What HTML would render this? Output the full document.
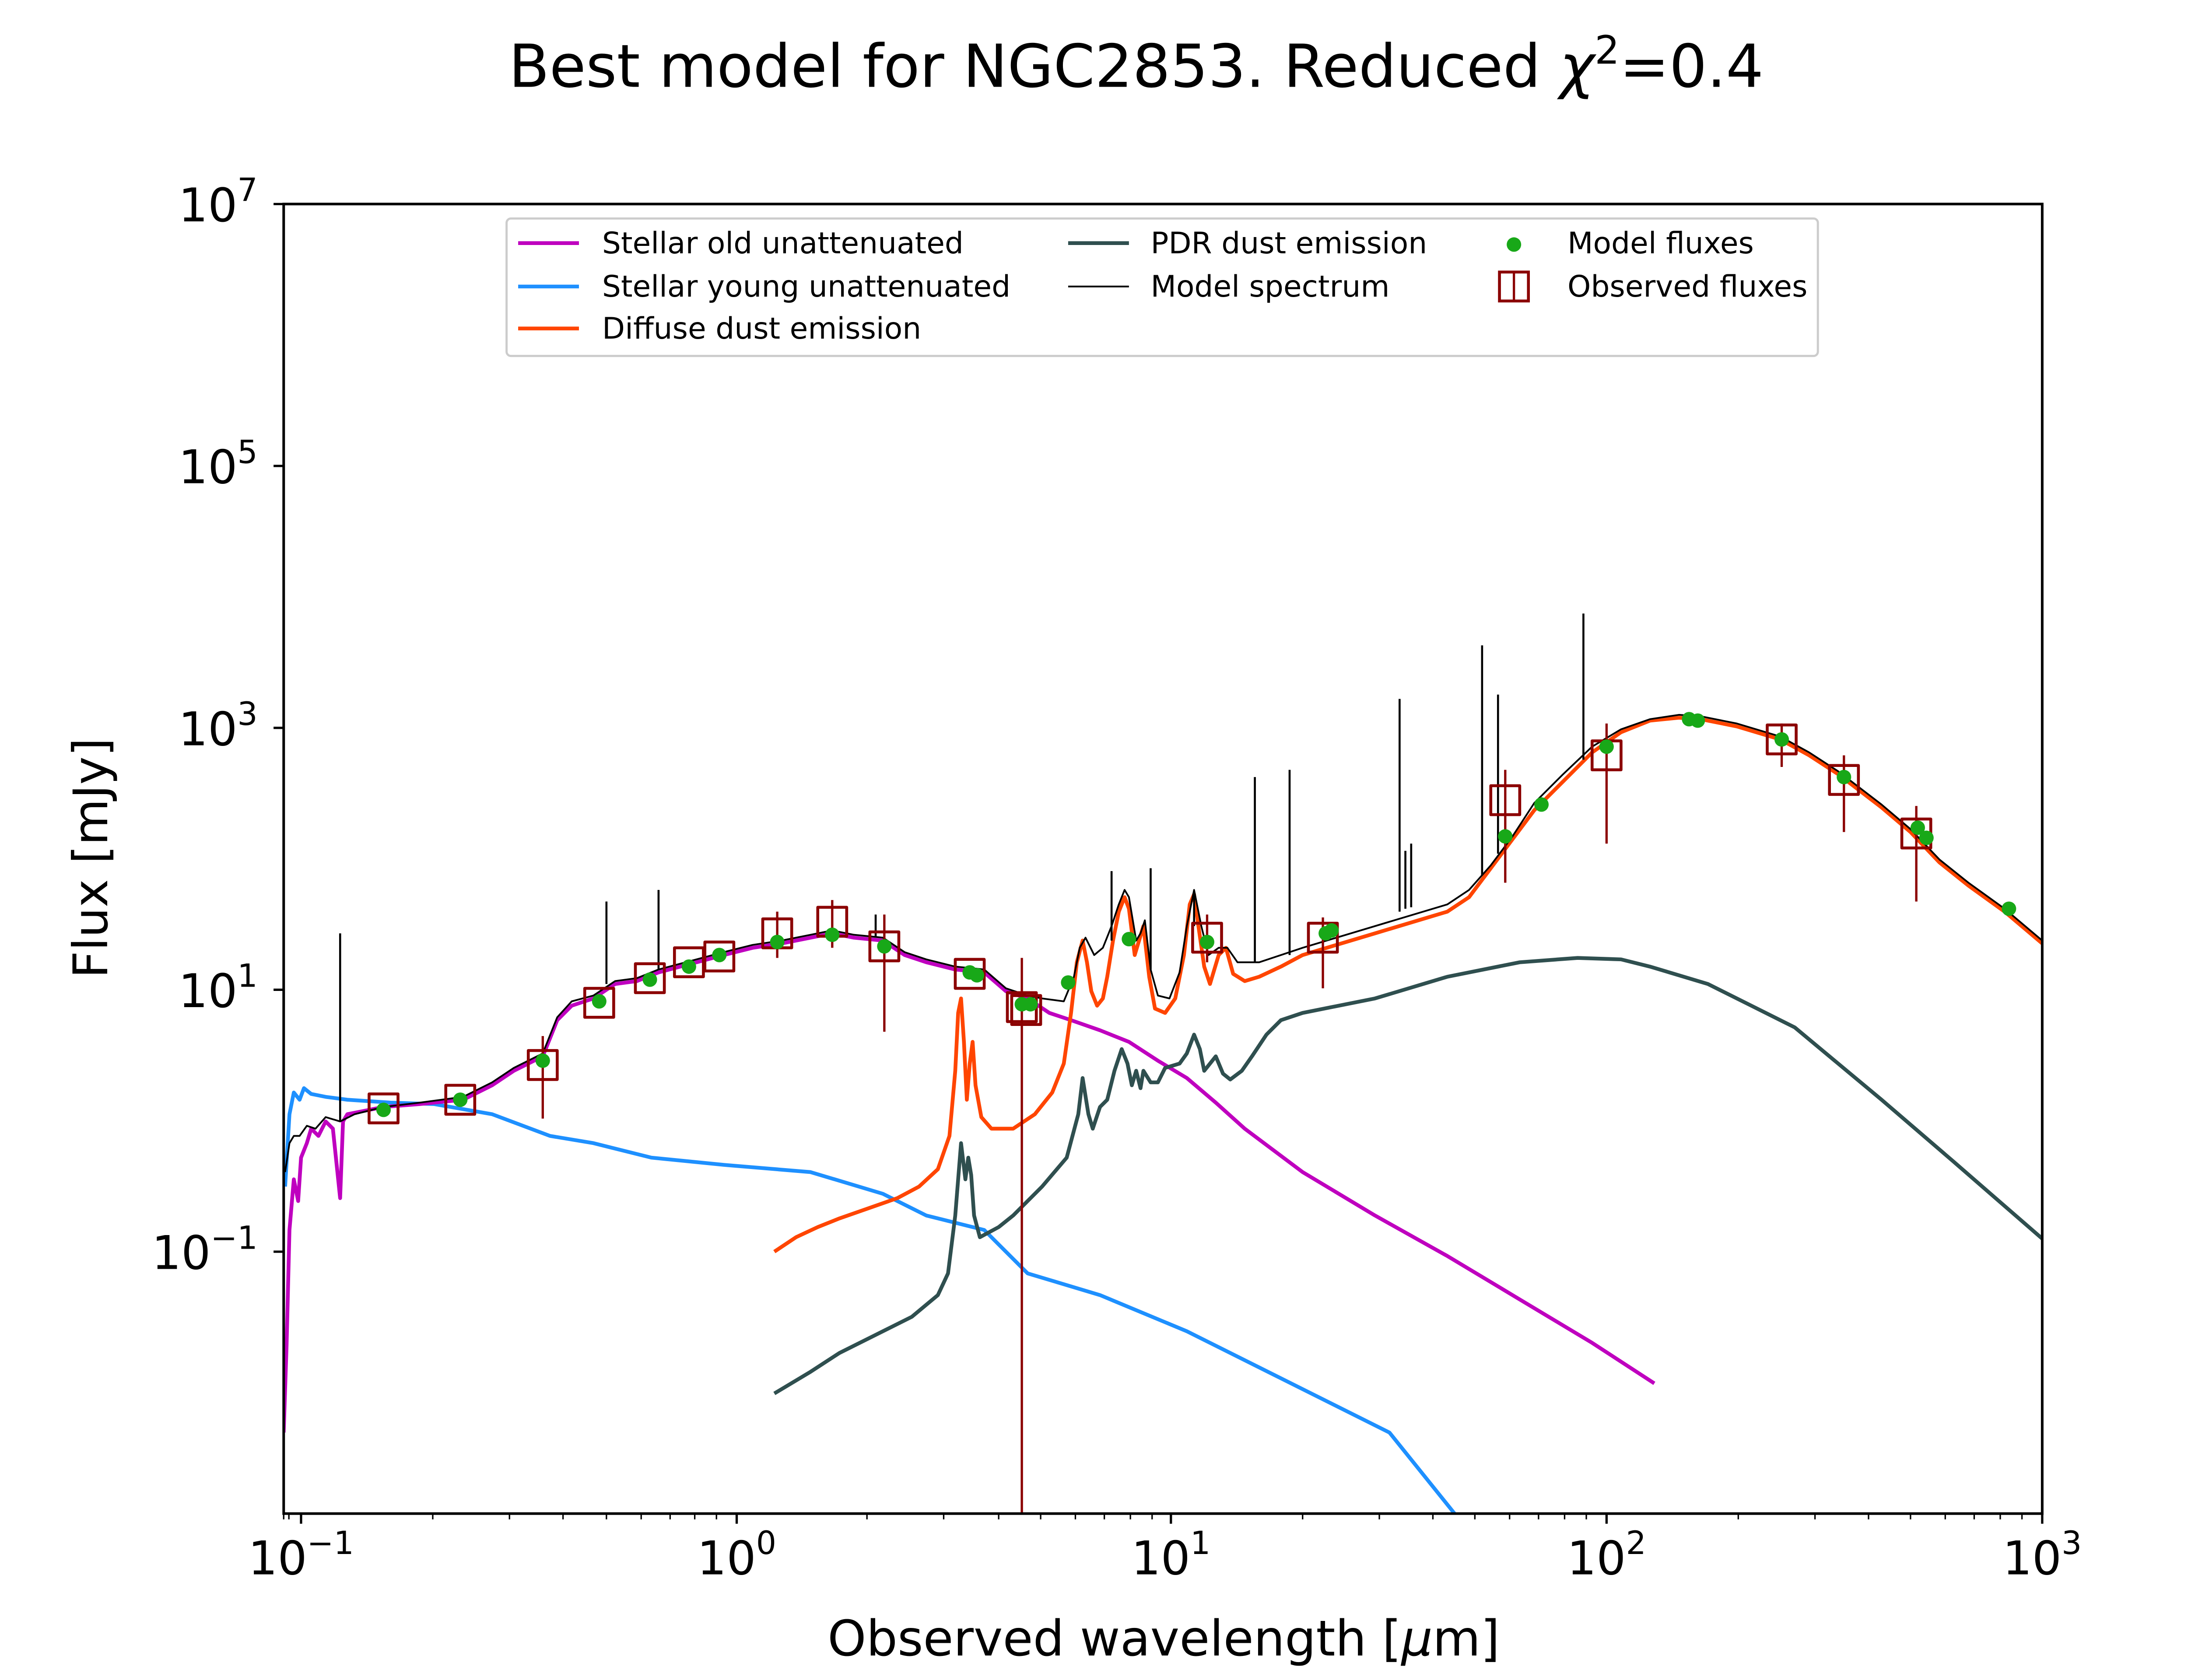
<!DOCTYPE html>
<html><head><meta charset="utf-8"><style>
html,body{margin:0;padding:0;background:#fff}
svg{display:block}
text{font-family:"DejaVu Sans","Liberation Sans",sans-serif;fill:#000}
</style></head><body>
<svg width="5120" height="3840" viewBox="0 0 1548 1161" xmlns="http://www.w3.org/2000/svg">
<rect width="1548" height="1161" fill="#fff"/>
<text x="785" y="60" font-size="41" text-anchor="middle">Best model for NGC2853. Reduced <tspan font-style="italic">χ</tspan><tspan font-size="27" dy="-16">2</tspan><tspan dy="16">=0.4</tspan></text>
<defs><clipPath id="c"><rect x="196" y="141" width="1215" height="905"/></clipPath></defs>
<g clip-path="url(#c)" fill="none" stroke-linejoin="round">
<polyline stroke="#1E90FF" stroke-width="2.6" points="197,820 200,770 203,755 207,760 210,752 215,756 225,758 240,760 270,762 300,763 340,770 380,785 410,790 450,800 500,805 560,810 610,825 640,840 680,850 710,880 760,895 820,920 880,950 960,990 1005,1046 1020,1060"/>
<polyline stroke="#BF00BF" stroke-width="2.6" points="196,990 198,930 200,850 203,815 206,830 208,800 212,790 215,780 220,785 225,775 230,780 235,828 237,775 240,770 250,768 265,765 290,763 320,760 340,750 355,740 375,730 385,705 395,695 410,690 425,680 440,678 455,672 470,668 485,664 500,660 520,655 540,652 560,648 575,645 590,648 610,650 625,660 640,665 660,670 680,672 695,685 710,690 725,700 740,705 760,712 780,720 800,733 820,745 840,762 860,780 880,795 900,810 950,840 1000,868 1050,898 1100,928 1143,956"/>
<polyline stroke="#2F4F4F" stroke-width="2.6" points="535,963 560,948 580,935 610,920 630,910 648,895 655,880 660,840 664,790 667,815 669,800 671,812 673,840 677,855 690,848 700,840 720,820 737,800 745,770 748,745 752,770 755,780 760,765 765,760 770,740 775,725 779,735 782,750 785,740 788,752 790,740 795,748 800,748 805,738 815,735 820,728 825,715 829,725 832,740 836,735 840,730 845,742 850,746 858,740 865,730 875,715 885,705 900,700 950,690 1000,675 1050,665 1090,662 1120,663 1140,668 1180,680 1210,695 1240,710 1270,735 1300,760 1350,803 1411,856"/>
<polyline stroke="#FF4500" stroke-width="2.6" points="535,865 550,855 565,848 580,842 600,835 620,828 635,820 648,808 656,785 660,740 662,700 664,690 666,720 668,760 670,735 672,720 674,750 678,772 685,780 700,780 715,770 727,755 735,735 740,700 744,665 748,650 751,665 754,685 758,695 762,690 765,675 769,650 773,630 777,620 780,628 784,660 787,650 790,640 794,675 798,697 805,700 812,690 818,660 822,625 825,618 828,640 832,668 836,680 842,660 847,655 852,673 860,678 870,675 885,668 900,660 950,645 1000,630 1015,620 1030,600 1045,580 1060,560 1080,540 1100,520 1120,506 1140,498 1160,496 1175,497 1200,502 1230,511 1250,522 1270,535 1300,558 1320,575 1340,596 1360,612 1385,630 1411,652"/>
<polyline stroke="#000" stroke-width="1.2" points="197,810 200,790 203,785 207,785 212,778 218,780 225,772 235,775 245,770 265,765 290,762 320,758 340,748 355,738 375,728 385,703 395,692 410,688 425,678 440,676 455,670 470,666 485,662 500,658 520,653 540,650 560,646 575,643 590,646 610,648 625,658 640,663 660,668 680,670 695,683 710,688 720,690 735,692 742,675 746,655 750,648 756,660 762,655 768,640 773,625 777,615 780,620 785,650 788,645 791,636 795,670 800,688 808,690 815,672 820,640 825,615 830,640 835,660 842,655 848,655 855,665 870,665 885,660 900,655 950,640 1000,625 1015,615 1030,598 1045,578 1060,555 1080,535 1100,516 1120,504 1140,497 1160,494 1175,495 1200,500 1230,509 1250,520 1270,533 1300,556 1320,573 1340,594 1360,610 1385,628 1411,650"/>
<g stroke="#000" stroke-width="1.4">
<line x1="235" y1="775" x2="235" y2="645"/><line x1="419" y1="680" x2="419" y2="623"/><line x1="455" y1="670" x2="455" y2="615"/><line x1="605" y1="648" x2="605" y2="632"/><line x1="768" y1="650" x2="768" y2="602"/><line x1="795" y1="670" x2="795" y2="600"/><line x1="825" y1="640" x2="825" y2="618"/><line x1="867" y1="665" x2="867" y2="537"/><line x1="891" y1="660" x2="891" y2="532"/><line x1="967" y1="630" x2="967" y2="483"/><line x1="971" y1="628" x2="971" y2="588"/><line x1="975" y1="627" x2="975" y2="583"/><line x1="1024" y1="605" x2="1024" y2="446"/><line x1="1035" y1="590" x2="1035" y2="480"/><line x1="1094" y1="525" x2="1094" y2="424"/>
</g>
<g stroke="#8B0000" stroke-width="1.6">
<line x1="375" y1="716" x2="375" y2="773"/><line x1="537" y1="630" x2="537" y2="662"/><line x1="575" y1="622" x2="575" y2="655"/><line x1="611" y1="632" x2="611" y2="713"/><line x1="706" y1="662" x2="706" y2="1046"/><line x1="834" y1="632" x2="834" y2="665"/><line x1="914" y1="634" x2="914" y2="683"/><line x1="1040" y1="532" x2="1040" y2="610"/><line x1="1110" y1="500" x2="1110" y2="583"/><line x1="1231" y1="500" x2="1231" y2="530"/><line x1="1274" y1="522" x2="1274" y2="575"/><line x1="1324" y1="557" x2="1324" y2="623"/>
</g>
<g stroke="#8B0000" stroke-width="2" fill="none">
<rect x="255" y="756" width="20" height="20"/><rect x="308" y="750" width="20" height="20"/><rect x="365" y="726" width="20" height="20"/><rect x="404" y="683" width="20" height="20"/><rect x="439" y="666" width="20" height="20"/><rect x="466" y="655" width="20" height="20"/><rect x="487" y="651" width="20" height="20"/><rect x="527" y="635" width="20" height="20"/><rect x="565" y="627" width="20" height="20"/><rect x="601" y="644" width="20" height="20"/><rect x="660" y="663" width="20" height="20"/><rect x="696" y="686" width="20" height="20"/><rect x="699" y="688" width="20" height="20"/><rect x="824" y="638" width="20" height="20"/><rect x="904" y="638" width="20" height="20"/><rect x="1030" y="543" width="20" height="20"/><rect x="1100" y="512" width="20" height="20"/><rect x="1221" y="501" width="20" height="20"/><rect x="1264" y="529" width="20" height="20"/><rect x="1314" y="566" width="20" height="20"/>
</g>
<g fill="#18A818" stroke="none">
<circle cx="265" cy="767" r="5"/><circle cx="318" cy="760" r="5"/><circle cx="375" cy="733" r="5"/><circle cx="414" cy="692" r="5"/><circle cx="449" cy="677" r="5"/><circle cx="476" cy="668" r="5"/><circle cx="497" cy="660" r="5"/><circle cx="537" cy="651" r="5"/><circle cx="575" cy="646" r="5"/><circle cx="611" cy="654" r="5"/><circle cx="670" cy="672" r="5"/><circle cx="675" cy="674" r="5"/><circle cx="706" cy="694" r="5"/><circle cx="712" cy="694" r="5"/><circle cx="738" cy="679" r="5"/><circle cx="780" cy="649" r="5"/><circle cx="834" cy="651" r="5"/><circle cx="916" cy="645" r="5"/><circle cx="920" cy="643" r="5"/><circle cx="1040" cy="578" r="5"/><circle cx="1065" cy="556" r="5"/><circle cx="1110" cy="516" r="5"/><circle cx="1167" cy="497" r="5"/><circle cx="1173" cy="498" r="5"/><circle cx="1231" cy="511" r="5"/><circle cx="1274" cy="537" r="5"/><circle cx="1325" cy="572" r="5"/><circle cx="1331" cy="579" r="5"/><circle cx="1388" cy="628" r="5"/>
</g>
</g>
<rect x="196" y="141" width="1215" height="905" fill="none" stroke="#000" stroke-width="1.8"/>
<g stroke="#000" stroke-width="1.6">
<line x1="208" y1="1046" x2="208" y2="1053"/><line x1="509" y1="1046" x2="509" y2="1053"/><line x1="809" y1="1046" x2="809" y2="1053"/><line x1="1110" y1="1046" x2="1110" y2="1053"/><line x1="1411" y1="1046" x2="1411" y2="1053"/>
<line x1="196" y1="141" x2="189" y2="141"/><line x1="196" y1="322" x2="189" y2="322"/><line x1="196" y1="503" x2="189" y2="503"/><line x1="196" y1="684" x2="189" y2="684"/><line x1="196" y1="865" x2="189" y2="865"/>
</g>
<g stroke="#000" stroke-width="1">
<line x1="196" y1="1046" x2="196" y2="1050"/><line x1="199.6" y1="1046" x2="199.6" y2="1050"/><line x1="299" y1="1046" x2="299" y2="1050"/><line x1="352" y1="1046" x2="352" y2="1050"/><line x1="389" y1="1046" x2="389" y2="1050"/><line x1="419" y1="1046" x2="419" y2="1050"/><line x1="443" y1="1046" x2="443" y2="1050"/><line x1="463" y1="1046" x2="463" y2="1050"/><line x1="480" y1="1046" x2="480" y2="1050"/><line x1="495" y1="1046" x2="495" y2="1050"/>
<line x1="599" y1="1046" x2="599" y2="1050"/><line x1="652" y1="1046" x2="652" y2="1050"/><line x1="690" y1="1046" x2="690" y2="1050"/><line x1="719" y1="1046" x2="719" y2="1050"/><line x1="743" y1="1046" x2="743" y2="1050"/><line x1="763" y1="1046" x2="763" y2="1050"/><line x1="781" y1="1046" x2="781" y2="1050"/><line x1="796" y1="1046" x2="796" y2="1050"/>
<line x1="900" y1="1046" x2="900" y2="1050"/><line x1="953" y1="1046" x2="953" y2="1050"/><line x1="990" y1="1046" x2="990" y2="1050"/><line x1="1019" y1="1046" x2="1019" y2="1050"/><line x1="1043" y1="1046" x2="1043" y2="1050"/><line x1="1063" y1="1046" x2="1063" y2="1050"/><line x1="1081" y1="1046" x2="1081" y2="1050"/><line x1="1096" y1="1046" x2="1096" y2="1050"/>
<line x1="1201" y1="1046" x2="1201" y2="1050"/><line x1="1254" y1="1046" x2="1254" y2="1050"/><line x1="1291" y1="1046" x2="1291" y2="1050"/><line x1="1320" y1="1046" x2="1320" y2="1050"/><line x1="1344" y1="1046" x2="1344" y2="1050"/><line x1="1364" y1="1046" x2="1364" y2="1050"/><line x1="1382" y1="1046" x2="1382" y2="1050"/><line x1="1397" y1="1046" x2="1397" y2="1050"/>
</g>
<g font-size="32">
<text x="208" y="1088" text-anchor="middle">10<tspan font-size="22" dy="-14">−1</tspan></text>
<text x="509" y="1088" text-anchor="middle">10<tspan font-size="22" dy="-14">0</tspan></text>
<text x="809" y="1088" text-anchor="middle">10<tspan font-size="22" dy="-14">1</tspan></text>
<text x="1110" y="1088" text-anchor="middle">10<tspan font-size="22" dy="-14">2</tspan></text>
<text x="1411" y="1088" text-anchor="middle">10<tspan font-size="22" dy="-14">3</tspan></text>
<text x="178" y="153" text-anchor="end">10<tspan font-size="22" dy="-14">7</tspan></text>
<text x="178" y="334" text-anchor="end">10<tspan font-size="22" dy="-14">5</tspan></text>
<text x="178" y="515" text-anchor="end">10<tspan font-size="22" dy="-14">3</tspan></text>
<text x="178" y="696" text-anchor="end">10<tspan font-size="22" dy="-14">1</tspan></text>
<text x="178" y="877" text-anchor="end">10<tspan font-size="22" dy="-14">−1</tspan></text>
</g>
<text x="804" y="1144" font-size="34" text-anchor="middle">Observed wavelength [<tspan font-style="italic">μ</tspan>m]</text>
<text transform="translate(74,593) rotate(-90)" font-size="33" text-anchor="middle">Flux [mJy]</text>
<rect x="350" y="151" width="906" height="95" fill="#fff" fill-opacity="0.8" stroke="#ccc" stroke-width="1.5" rx="3"/>
<g font-size="20.5">
<line x1="358" y1="168" x2="400" y2="168" stroke="#BF00BF" stroke-width="2.6"/><text x="416" y="175">Stellar old unattenuated</text>
<line x1="358" y1="198" x2="400" y2="198" stroke="#1E90FF" stroke-width="2.6"/><text x="416" y="205">Stellar young unattenuated</text>
<line x1="358" y1="227" x2="400" y2="227" stroke="#FF4500" stroke-width="2.6"/><text x="416" y="234">Diffuse dust emission</text>
<line x1="738" y1="168" x2="780" y2="168" stroke="#2F4F4F" stroke-width="2.6"/><text x="795" y="175">PDR dust emission</text>
<line x1="738" y1="198" x2="780" y2="198" stroke="#000" stroke-width="1.2"/><text x="795" y="205">Model spectrum</text>
<circle cx="1046" cy="169" r="5" fill="#18A818"/><text x="1083" y="175">Model fluxes</text>
<rect x="1036" y="188" width="20" height="20" fill="none" stroke="#8B0000" stroke-width="2"/><line x1="1046" y1="188" x2="1046" y2="208" stroke="#8B0000" stroke-width="1.6"/><text x="1083" y="205">Observed fluxes</text>
</g>
</svg>
</body></html>
